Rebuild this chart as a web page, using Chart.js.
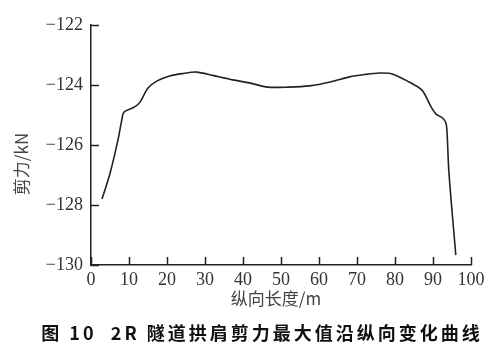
<!DOCTYPE html>
<html>
<head>
<meta charset="utf-8">
<script src="https://cdn.jsdelivr.net/npm/chart.js@4"></script>
<style>
  html, body { margin: 0; padding: 0; background: #fff; }
  #wrap { width: 501px; height: 349px; }
</style>
</head>
<body>
<div id="wrap"><canvas id="shearChart" width="501" height="349"></canvas></div>
<script>
// 纵向长度 (m) and 剪力 (kN)
const positions = [2.9, 5, 7.1, 8.1, 8.7, 11.5, 12.9, 15, 17.3, 20.7, 24, 27.8, 32, 37.3, 41.7, 46.5, 52, 57.5, 63, 68, 72, 75.9, 79.3, 83.7, 87.1, 89.5, 90.8, 92.5, 93.4, 93.7, 94.2, 96];
const shearForce = [-127.8, -126.95, -125.83, -125.17, -124.9, -124.73, -124.57, -124.1, -123.87, -123.7, -123.62, -123.57, -123.68, -123.83, -123.93, -124.07, -124.07, -124.03, -123.9, -123.73, -123.65, -123.6, -123.63, -123.9, -124.17, -124.73, -124.97, -125.1, -125.27, -125.6, -126.93, -129.67];

const xTitle = "纵向长度/m";
const yTitle = "剪力/kN";
const caption = "图 10  2R 隧道拱肩剪力最大值沿纵向变化曲线";

const serif = "'Liberation Serif', 'DejaVu Serif', serif";
const cjk = "'Noto Sans CJK SC', sans-serif";

// Inward tick marks plus the axis title / caption text
const decorPlugin = {
    id: "decor",
    afterDraw(chart) {
        const ctx = chart.ctx;
        const xs = chart.scales.x;
        const ys = chart.scales.y;
        const area = chart.chartArea;
        ctx.save();
        ctx.strokeStyle = "#222";
        ctx.lineWidth = 1.5;
        ctx.beginPath();
        ys.ticks.forEach(t => {
            const py = Math.round(ys.getPixelForValue(t.value)) + 0.5;
            ctx.moveTo(area.left, py);
            ctx.lineTo(area.left + 8, py);
        });
        xs.ticks.forEach(t => {
            const px = Math.round(xs.getPixelForValue(t.value)) + 0.5;
            ctx.moveTo(px, area.bottom);
            ctx.lineTo(px, area.bottom - 8);
        });
        ctx.stroke();

        ctx.fillStyle = "#444";
        ctx.font = "17px " + cjk;
        ctx.textAlign = "center";
        ctx.textBaseline = "middle";
        ctx.fillText(xTitle, 276, 299);

        ctx.save();
        ctx.translate(22, 164);
        ctx.rotate(-Math.PI / 2);
        ctx.fillText(yTitle, 0, 0);
        ctx.restore();

        ctx.fillStyle = "#111";
        ctx.font = "bold 18px " + cjk;
        ctx.letterSpacing = "3px";
        ctx.fillText(caption, 262, 333);
        ctx.restore();
    }
};

const ctx = document.getElementById("shearChart").getContext("2d");
const chart = new Chart(ctx, {
    type: "line",
    data: {
        datasets: [{
            data: positions.map((x, i) => ({ x: x, y: shearForce[i] })),
            borderColor: "#222",
            borderWidth: 1.6,
            pointRadius: 0,
            tension: 0.3,
            fill: false
        }]
    },
    options: {
        responsive: false,
        animation: false,
        layout: { padding: { left: 0, right: 30, top: 25, bottom: 0 } },
        plugins: { legend: { display: false }, tooltip: { enabled: false } },
        scales: {
            x: {
                type: "linear",
                min: 0,
                max: 100,
                grid: { display: false, drawTicks: false },
                border: { display: true, color: "#222", width: 1.5 },
                ticks: {
                    stepSize: 10,
                    padding: 4,
                    color: "#333",
                    font: { family: serif, size: 18 }
                },
                afterFit: scale => { scale.height = 84; }
            },
            y: {
                min: -130,
                max: -122,
                grid: { display: false, drawTicks: false },
                border: { display: true, color: "#222", width: 1.5 },
                ticks: {
                    stepSize: 2,
                    padding: 8,
                    color: "#333",
                    font: { family: serif, size: 18 },
                    callback: v => String(v).replace("-", "\u2212")
                },
                afterFit: scale => { scale.width = 91; }
            }
        }
    },
    plugins: [decorPlugin]
});
</script>
</body>
</html>
